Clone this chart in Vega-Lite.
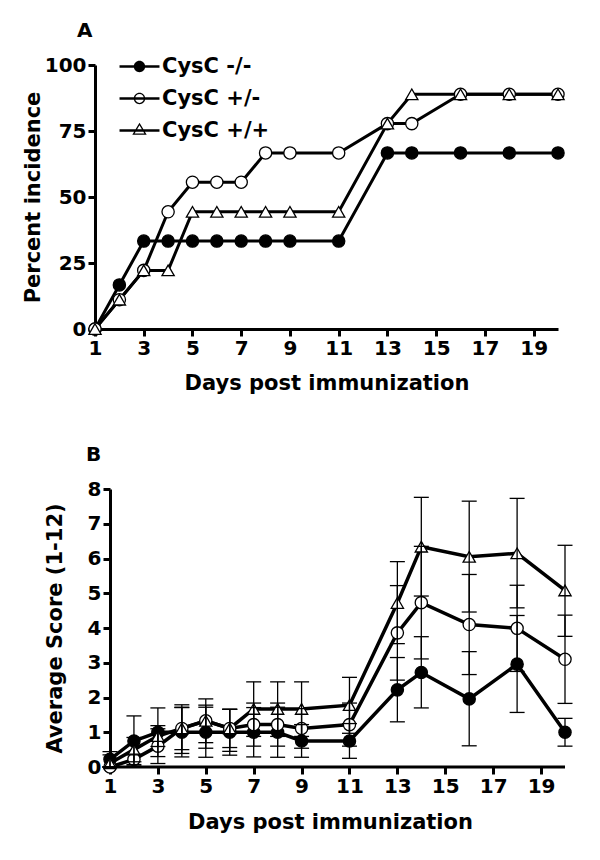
{
  "$schema": "https://vega.github.io/schema/vega-lite/v6.json",
  "padding": {"left": 22, "top": 21, "right": 5, "bottom": 5},
  "spacing": 52,
  "config": {
    "font": "DejaVu Sans",
    "view": {"stroke": null},
    "axis": {
      "domainColor": "black", "domainWidth": 3, "tickColor": "black", "tickWidth": 3, "tickSize": 7,
      "labelFont": "DejaVu Sans", "labelFontSize": 20, "labelFontWeight": "bold", "labelColor": "black",
      "titleFont": "DejaVu Sans", "titleFontSize": 21, "titleFontWeight": "bold", "titleColor": "black",
      "grid": false, "labelPadding": 2, "labelOverlap": false, "labelFlush": false
    }
  },
  "datasets": {
    "inc": [
      {"day": 1, "grp": "CysC -/-", "pct": 0}, {"day": 2, "grp": "CysC -/-", "pct": 16.7}, {"day": 3, "grp": "CysC -/-", "pct": 33.3}, {"day": 4, "grp": "CysC -/-", "pct": 33.3}, {"day": 5, "grp": "CysC -/-", "pct": 33.3}, {"day": 6, "grp": "CysC -/-", "pct": 33.3}, {"day": 7, "grp": "CysC -/-", "pct": 33.3}, {"day": 8, "grp": "CysC -/-", "pct": 33.3}, {"day": 9, "grp": "CysC -/-", "pct": 33.3}, {"day": 11, "grp": "CysC -/-", "pct": 33.3}, {"day": 13, "grp": "CysC -/-", "pct": 66.7}, {"day": 14, "grp": "CysC -/-", "pct": 66.7}, {"day": 16, "grp": "CysC -/-", "pct": 66.7}, {"day": 18, "grp": "CysC -/-", "pct": 66.7}, {"day": 20, "grp": "CysC -/-", "pct": 66.7},
      {"day": 1, "grp": "CysC +/-", "pct": 0}, {"day": 2, "grp": "CysC +/-", "pct": 11.1}, {"day": 3, "grp": "CysC +/-", "pct": 22.2}, {"day": 4, "grp": "CysC +/-", "pct": 44.4}, {"day": 5, "grp": "CysC +/-", "pct": 55.6}, {"day": 6, "grp": "CysC +/-", "pct": 55.6}, {"day": 7, "grp": "CysC +/-", "pct": 55.6}, {"day": 8, "grp": "CysC +/-", "pct": 66.7}, {"day": 9, "grp": "CysC +/-", "pct": 66.7}, {"day": 11, "grp": "CysC +/-", "pct": 66.7}, {"day": 13, "grp": "CysC +/-", "pct": 77.8}, {"day": 14, "grp": "CysC +/-", "pct": 77.8}, {"day": 16, "grp": "CysC +/-", "pct": 88.9}, {"day": 18, "grp": "CysC +/-", "pct": 88.9}, {"day": 20, "grp": "CysC +/-", "pct": 88.9},
      {"day": 1, "grp": "CysC +/+", "pct": 0}, {"day": 2, "grp": "CysC +/+", "pct": 11.1}, {"day": 3, "grp": "CysC +/+", "pct": 22.2}, {"day": 4, "grp": "CysC +/+", "pct": 22.2}, {"day": 5, "grp": "CysC +/+", "pct": 44.4}, {"day": 6, "grp": "CysC +/+", "pct": 44.4}, {"day": 7, "grp": "CysC +/+", "pct": 44.4}, {"day": 8, "grp": "CysC +/+", "pct": 44.4}, {"day": 9, "grp": "CysC +/+", "pct": 44.4}, {"day": 11, "grp": "CysC +/+", "pct": 44.4}, {"day": 13, "grp": "CysC +/+", "pct": 77.8}, {"day": 14, "grp": "CysC +/+", "pct": 88.9}, {"day": 16, "grp": "CysC +/+", "pct": 88.9}, {"day": 18, "grp": "CysC +/+", "pct": 88.9}, {"day": 20, "grp": "CysC +/+", "pct": 88.9}
    ],
    "score": [
      {"day": 1, "grp": "CysC -/-", "mean": 0.22, "lo": 0.0, "hi": 0.44},
      {"day": 2, "grp": "CysC -/-", "mean": 0.75, "lo": 0.03, "hi": 1.47},
      {"day": 3, "grp": "CysC -/-", "mean": 1.0, "lo": 0.3, "hi": 1.7},
      {"day": 4, "grp": "CysC -/-", "mean": 1.0, "lo": 0.29, "hi": 1.71},
      {"day": 5, "grp": "CysC -/-", "mean": 1.0, "lo": 0.28, "hi": 1.72},
      {"day": 6, "grp": "CysC -/-", "mean": 1.0, "lo": 0.34, "hi": 1.66},
      {"day": 7, "grp": "CysC -/-", "mean": 1.0, "lo": 0.29, "hi": 1.71},
      {"day": 8, "grp": "CysC -/-", "mean": 1.0, "lo": 0.28, "hi": 1.72},
      {"day": 9, "grp": "CysC -/-", "mean": 0.75, "lo": 0.28, "hi": 1.22},
      {"day": 11, "grp": "CysC -/-", "mean": 0.75, "lo": 0.25, "hi": 1.25},
      {"day": 13, "grp": "CysC -/-", "mean": 2.22, "lo": 1.3, "hi": 3.15},
      {"day": 14, "grp": "CysC -/-", "mean": 2.72, "lo": 1.7, "hi": 3.75},
      {"day": 16, "grp": "CysC -/-", "mean": 1.96, "lo": 0.61, "hi": 3.32},
      {"day": 18, "grp": "CysC -/-", "mean": 2.96, "lo": 1.57, "hi": 4.36},
      {"day": 20, "grp": "CysC -/-", "mean": 1.0, "lo": 0.6, "hi": 1.4},
      {"day": 1, "grp": "CysC +/-", "mean": 0.0, "lo": 0.0, "hi": 0.0},
      {"day": 2, "grp": "CysC +/-", "mean": 0.22, "lo": 0.07, "hi": 0.37},
      {"day": 3, "grp": "CysC +/-", "mean": 0.6, "lo": 0.1, "hi": 1.1},
      {"day": 4, "grp": "CysC +/-", "mean": 1.11, "lo": 0.39, "hi": 1.79},
      {"day": 5, "grp": "CysC +/-", "mean": 1.33, "lo": 0.7, "hi": 1.96},
      {"day": 6, "grp": "CysC +/-", "mean": 1.11, "lo": 0.56, "hi": 1.66},
      {"day": 7, "grp": "CysC +/-", "mean": 1.22, "lo": 0.6, "hi": 1.84},
      {"day": 8, "grp": "CysC +/-", "mean": 1.22, "lo": 0.6, "hi": 1.84},
      {"day": 9, "grp": "CysC +/-", "mean": 1.11, "lo": 0.54, "hi": 1.68},
      {"day": 11, "grp": "CysC +/-", "mean": 1.22, "lo": 0.6, "hi": 1.84},
      {"day": 13, "grp": "CysC +/-", "mean": 3.86, "lo": 2.5, "hi": 5.22},
      {"day": 14, "grp": "CysC +/-", "mean": 4.73, "lo": 3.11, "hi": 6.35},
      {"day": 16, "grp": "CysC +/-", "mean": 4.1, "lo": 2.66, "hi": 5.54},
      {"day": 18, "grp": "CysC +/-", "mean": 3.99, "lo": 2.75, "hi": 5.23},
      {"day": 20, "grp": "CysC +/-", "mean": 3.1, "lo": 1.83, "hi": 4.37},
      {"day": 1, "grp": "CysC +/+", "mean": 0.11, "lo": 0.0, "hi": 0.35},
      {"day": 2, "grp": "CysC +/+", "mean": 0.5, "lo": 0.15, "hi": 0.85},
      {"day": 3, "grp": "CysC +/+", "mean": 0.89, "lo": 0.59, "hi": 1.19},
      {"day": 4, "grp": "CysC +/+", "mean": 1.11, "lo": 0.5, "hi": 1.72},
      {"day": 5, "grp": "CysC +/+", "mean": 1.33, "lo": 0.54, "hi": 1.78},
      {"day": 6, "grp": "CysC +/+", "mean": 1.11, "lo": 0.45, "hi": 1.66},
      {"day": 7, "grp": "CysC +/+", "mean": 1.67, "lo": 0.88, "hi": 2.45},
      {"day": 8, "grp": "CysC +/+", "mean": 1.67, "lo": 0.88, "hi": 2.45},
      {"day": 9, "grp": "CysC +/+", "mean": 1.67, "lo": 0.88, "hi": 2.45},
      {"day": 11, "grp": "CysC +/+", "mean": 1.78, "lo": 0.97, "hi": 2.58},
      {"day": 13, "grp": "CysC +/+", "mean": 4.72, "lo": 3.55, "hi": 5.91},
      {"day": 14, "grp": "CysC +/+", "mean": 6.34, "lo": 4.92, "hi": 7.76},
      {"day": 16, "grp": "CysC +/+", "mean": 6.05, "lo": 4.46, "hi": 7.65},
      {"day": 18, "grp": "CysC +/+", "mean": 6.15, "lo": 4.58, "hi": 7.73},
      {"day": 20, "grp": "CysC +/+", "mean": 5.08, "lo": 3.76, "hi": 6.38}
    ]
  },
  "vconcat": [
    {
      "width": 463,
      "height": 264,
      "title": {"text": "A", "anchor": "start", "frame": "group", "dx": -18, "offset": 14, "font": "DejaVu Sans", "fontSize": 20, "fontWeight": "bold", "color": "black"},
      "data": {"name": "inc"},
      "encoding": {
        "x": {"field": "day", "type": "quantitative", "scale": {"domain": [1, 20], "nice": false, "zero": false},
              "axis": {"values": [1, 3, 5, 7, 9, 11, 13, 15, 17, 19], "title": "Days post immunization", "titlePadding": 14}},
        "y": {"field": "pct", "type": "quantitative", "scale": {"domain": [0, 100], "nice": false},
              "axis": {"values": [0, 25, 50, 75, 100], "title": "Percent  incidence", "titlePadding": 1}}
      },
      "resolve": {"scale": {"shape": "independent"}},
      "layer": [
        {"mark": {"type": "line", "color": "black", "strokeWidth": 3}, "encoding": {"detail": {"field": "grp"}}},
        {"mark": {"type": "point", "filled": true, "stroke": "black", "strokeWidth": 1.3, "size": 150, "opacity": 1},
         "encoding": {
           "shape": {"field": "grp", "type": "nominal", "scale": {"domain": ["CysC -/-", "CysC +/-", "CysC +/+"], "range": ["circle", "circle", "triangle-up"]}, "legend": null},
           "fill": {"field": "grp", "type": "nominal", "scale": {"domain": ["CysC -/-", "CysC +/-", "CysC +/+"], "range": ["black", "white", "white"]}, "legend": null}
         }},
        {"transform": [{"filter": "datum.day < 0"}],
         "mark": {"type": "point", "filled": true, "color": "black", "strokeWidth": 0, "size": 144, "opacity": 1},
         "encoding": {
           "shape": {"field": "grp", "type": "nominal",
             "scale": {"domain": ["CysC -/-", "CysC +/-", "CysC +/+"], "range": [
               "M-3.33,-0.21L3.33,-0.21L3.33,0.21L-3.33,0.21Z M0.95,0A0.95,0.95,0,1,1,-0.95,0A0.95,0.95,0,1,1,0.95,0Z",
               "M-3.33,-0.21L3.33,-0.21L3.33,0.21L-3.33,0.21Z M0.95,0A0.95,0.95,0,1,1,-0.95,0A0.95,0.95,0,1,1,0.95,0Z M0.73,0A0.73,0.73,0,1,0,-0.73,0A0.73,0.73,0,1,0,0.73,0Z",
               "M-3.33,-0.21L3.33,-0.21L3.33,0.21L-3.33,0.21Z M0,-1.3L1.2,0.7L-1.2,0.7Z M0,-0.87L-0.81,0.48L0.81,0.48Z"]},
             "legend": {"title": null, "orient": "none", "legendX": 34, "legendY": -9, "padding": 0, "symbolSize": 144, "symbolOffset": 0, "labelOffset": 12, "rowPadding": 10, "labelFont": "DejaVu Sans", "labelFontSize": 21, "labelFontWeight": "bold", "labelColor": "black", "symbolFillColor": "black", "symbolStrokeWidth": 0, "symbolOpacity": 1}}
         }}
      ]
    },
    {
      "width": 470,
      "height": 278,
      "title": {"text": "B", "anchor": "start", "frame": "group", "dx": -9, "offset": 14, "font": "DejaVu Sans", "fontSize": 20, "fontWeight": "bold", "color": "black"},
      "layer": [
        {"data": {"values": [{}]}, "mark": {"type": "rule", "color": "black", "strokeWidth": 3},
         "encoding": {
           "x": {"datum": 1, "type": "quantitative", "scale": {"domain": [0.374, 20], "nice": false, "zero": false},
              "axis": {"values": [1, 3, 5, 7, 9, 11, 13, 15, 17, 19], "title": "Days post immunization", "titlePadding": 15, "domain": false}},
           "x2": {"datum": 20},
           "y": {"datum": 0, "type": "quantitative", "scale": {"domain": [0, 8], "nice": false},
              "axis": {"values": [0, 1, 2, 3, 4, 5, 6, 7, 8], "title": "Average  Score  (1-12)", "titlePadding": 22, "offset": -15}}}},
        {"data": {"name": "score"}, "mark": {"type": "line", "color": "black", "strokeWidth": 3.5},
         "encoding": {
           "x": {"field": "day", "type": "quantitative", "axis": {"values": [1, 3, 5, 7, 9, 11, 13, 15, 17, 19], "title": "Days post immunization", "titlePadding": 15, "domain": false}},
           "y": {"field": "mean", "type": "quantitative", "axis": {"values": [0, 1, 2, 3, 4, 5, 6, 7, 8], "title": "Average  Score  (1-12)", "titlePadding": 22, "offset": -15}},
           "detail": {"field": "grp"}}},
        {"data": {"name": "score"}, "mark": {"type": "point", "filled": true, "stroke": "black", "strokeWidth": 1.3, "size": 150, "opacity": 1},
         "encoding": {
           "x": {"field": "day", "type": "quantitative", "axis": {"values": [1, 3, 5, 7, 9, 11, 13, 15, 17, 19], "title": "Days post immunization", "titlePadding": 15, "domain": false}},
           "y": {"field": "mean", "type": "quantitative", "axis": {"values": [0, 1, 2, 3, 4, 5, 6, 7, 8], "title": "Average  Score  (1-12)", "titlePadding": 22, "offset": -15}},
           "shape": {"field": "grp", "type": "nominal", "scale": {"domain": ["CysC -/-", "CysC +/-", "CysC +/+"], "range": ["circle", "circle", "triangle-up"]}, "legend": null},
           "fill": {"field": "grp", "type": "nominal", "scale": {"domain": ["CysC -/-", "CysC +/-", "CysC +/+"], "range": ["black", "white", "white"]}, "legend": null}}},
        {"data": {"name": "score"}, "mark": {"type": "rule", "color": "black", "strokeWidth": 1.3},
         "encoding": {
           "x": {"field": "day", "type": "quantitative", "axis": {"values": [1, 3, 5, 7, 9, 11, 13, 15, 17, 19], "title": "Days post immunization", "titlePadding": 15, "domain": false}},
           "y": {"field": "lo", "type": "quantitative", "axis": {"values": [0, 1, 2, 3, 4, 5, 6, 7, 8], "title": "Average  Score  (1-12)", "titlePadding": 22, "offset": -15}},
           "y2": {"field": "hi"}}},
        {"data": {"name": "score"}, "mark": {"type": "tick", "orient": "horizontal", "size": 15, "thickness": 1.3, "color": "black", "opacity": 1},
         "encoding": {
           "x": {"field": "day", "type": "quantitative", "axis": {"values": [1, 3, 5, 7, 9, 11, 13, 15, 17, 19], "title": "Days post immunization", "titlePadding": 15, "domain": false}},
           "y": {"field": "lo", "type": "quantitative", "axis": {"values": [0, 1, 2, 3, 4, 5, 6, 7, 8], "title": "Average  Score  (1-12)", "titlePadding": 22, "offset": -15}}}},
        {"data": {"name": "score"}, "mark": {"type": "tick", "orient": "horizontal", "size": 15, "thickness": 1.3, "color": "black", "opacity": 1},
         "encoding": {
           "x": {"field": "day", "type": "quantitative", "axis": {"values": [1, 3, 5, 7, 9, 11, 13, 15, 17, 19], "title": "Days post immunization", "titlePadding": 15, "domain": false}},
           "y": {"field": "hi", "type": "quantitative", "axis": {"values": [0, 1, 2, 3, 4, 5, 6, 7, 8], "title": "Average  Score  (1-12)", "titlePadding": 22, "offset": -15}}}}
      ]
    }
  ]
}
